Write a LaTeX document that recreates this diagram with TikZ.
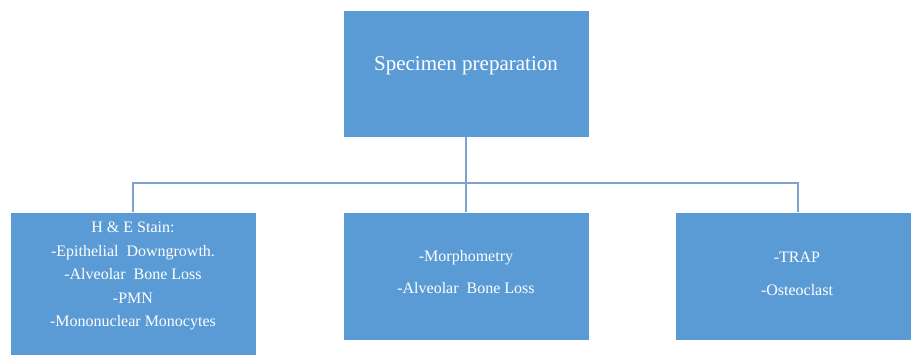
\documentclass[tikz,border=0pt]{standalone}
\usepackage{fontspec}
\setmainfont{Liberation Serif}
\begin{document}
\begin{tikzpicture}[x=1pt,y=-1pt,
  box/.style={draw=white, line width=0.8pt, fill=boxblue, minimum width=246pt, inner sep=0pt},
  txt/.style={text=white, align=center, font=\fontsize{16}{23.5}\selectfont},
  link/.style={draw=linkblue, line width=1.2pt}]
\definecolor{boxblue}{HTML}{5B9BD5}
\definecolor{linkblue}{HTML}{7EA2CE}
\useasboundingbox (0,0) rectangle (911,354);
\begin{scope}
\clip (0,0) rectangle (911,354);
\node[box, minimum height=127pt] (spec) at (466,73.5) {};
\node[box, minimum height=150pt] (he) at (133,287) {};
\node[box, minimum height=128pt] (morph) at (466,276) {};
\node[box, minimum height=128pt] (trap) at (798,276) {};
\end{scope}
\node[txt, font=\fontsize{21}{25}\selectfont] (spec-txt) at (466,66) {Specimen preparation};
\node[txt] (he-txt) at (133,276) {H \& E Stain:\\-Epithelial\ \ Downgrowth.\\-Alveolar\ \ Bone Loss\\-PMN\\-Mononuclear Monocytes};
\node[txt] (morph-txt) at (466,272) {-Morphometry\\[8pt]-Alveolar\ \ Bone Loss};
\node[txt] (trap-txt) at (797,274) {-TRAP\\[10pt]-Osteoclast};
\coordinate (bus) at (0,183);
\draw[link] (spec.south) -- (morph.north);
\draw[link] (he.north) -- (he.north |- bus) -- (trap.north |- bus) -- (trap.north);
\end{tikzpicture}
\end{document}
